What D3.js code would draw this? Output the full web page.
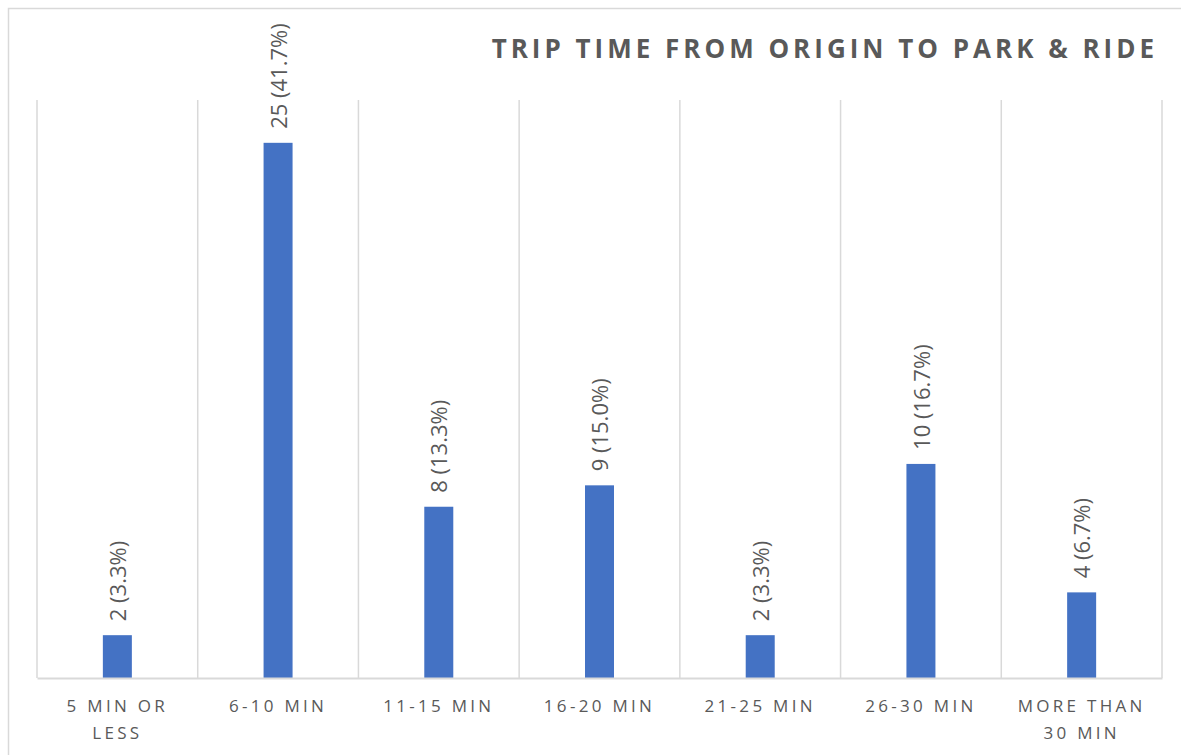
<!DOCTYPE html>
<html>
<head>
<meta charset="utf-8">
<script src="https://cdn.jsdelivr.net/npm/d3@7"></script>
<style>
  body { margin: 0; background: #fff; }
  svg { display: block; font-family: "Open Sans", "Noto Sans", sans-serif; }
</style>
</head>
<body>
<div id="chart"></div>
<script>
const categories = [["5 MIN OR", "LESS"], ["6-10 MIN"], ["11-15 MIN"], ["16-20 MIN"], ["21-25 MIN"], ["26-30 MIN"], ["MORE THAN", "30 MIN"]];
const counts = [2, 25, 8, 9, 2, 10, 4];
const percents = ["3.3%", "41.7%", "13.3%", "15.0%", "3.3%", "16.7%", "6.7%"];
const yDomainMax = 27;

const width = 1181, height = 755;
const margin = { top: 100, right: 19, bottom: 77, left: 37 };

const data = categories.map((c, i) => ({ key: c.join(" "), lines: c, count: counts[i], pct: percents[i] }));

const svg = d3.select("#chart").append("svg")
  .attr("width", width)
  .attr("height", height);

// chart border (only top and left edges are inside the frame)
svg.append("path")
  .attr("d", `M8.5,${height} V8.5 H${width}`)
  .attr("fill", "none")
  .attr("stroke", "#d9d9d9")
  .attr("stroke-width", 1.5);

// title
svg.append("text")
  .attr("x", 1158)
  .attr("y", 58)
  .attr("text-anchor", "end")
  .attr("fill", "#595959")
  .style("font-size", "26px")
  .style("font-weight", "bold")
  .style("letter-spacing", "4px")
  .text("TRIP TIME FROM ORIGIN TO PARK & RIDE");

// scales in page coordinates
const xScale = d3.scaleBand()
  .domain(data.map(d => d.key))
  .range([margin.left, width - margin.right])
  .padding(0);

const yScale = d3.scaleLinear()
  .domain([0, yDomainMax])
  .range([height - margin.bottom, margin.top]);

const y0 = yScale(0);
const cx = d => xScale(d.key) + xScale.bandwidth() / 2;

// vertical gridlines at category boundaries
const bounds = data.map(d => xScale(d.key)).concat([width - margin.right]);
svg.selectAll(".grid")
  .data(bounds)
  .join("line")
  .attr("class", "grid")
  .attr("x1", d => d).attr("x2", d => d)
  .attr("y1", margin.top).attr("y2", y0)
  .attr("stroke", "#d9d9d9")
  .attr("stroke-width", 1.5);

// bars
const barW = 29;
svg.selectAll(".bar")
  .data(data)
  .join("rect")
  .attr("class", "bar")
  .attr("x", d => cx(d) - barW / 2)
  .attr("y", d => yScale(d.count))
  .attr("width", barW)
  .attr("height", d => y0 - yScale(d.count))
  .attr("fill", "#4472c4");

// x axis line
const xAxis = svg.append("g")
  .attr("transform", `translate(0,${y0})`)
  .call(d3.axisBottom(xScale).tickSize(0).tickSizeOuter(0));
xAxis.select(".domain").attr("stroke", "#d9d9d9").attr("stroke-width", 2);
xAxis.selectAll(".tick").remove();

// category labels
const tickText = svg.selectAll(".cat")
  .data(data)
  .join("text")
  .attr("class", "cat")
  .attr("fill", "#595959")
  .attr("text-anchor", "middle")
  .style("font-size", "17px")
  .style("letter-spacing", "3.3px");
tickText.selectAll("tspan")
  .data(d => d.lines.map(l => ({ l, x: cx(d) })))
  .join("tspan")
  .attr("x", d => d.x)
  .attr("y", (d, i) => y0 + 34 + i * 27)
  .text(d => d.l);

// value labels, rotated
svg.selectAll(".label")
  .data(data)
  .join("text")
  .attr("class", "label")
  .attr("x", d => cx(d) + 1)
  .attr("y", d => yScale(d.count) - 14)
  .attr("transform", d => `rotate(-90, ${cx(d) + 1}, ${yScale(d.count) - 14})`)
  .attr("dy", "0.35em")
  .attr("text-anchor", "start")
  .attr("fill", "#595959")
  .style("font-size", "22px")
  .text(d => `${d.count} (${d.pct})`);
</script>
</body>
</html>
